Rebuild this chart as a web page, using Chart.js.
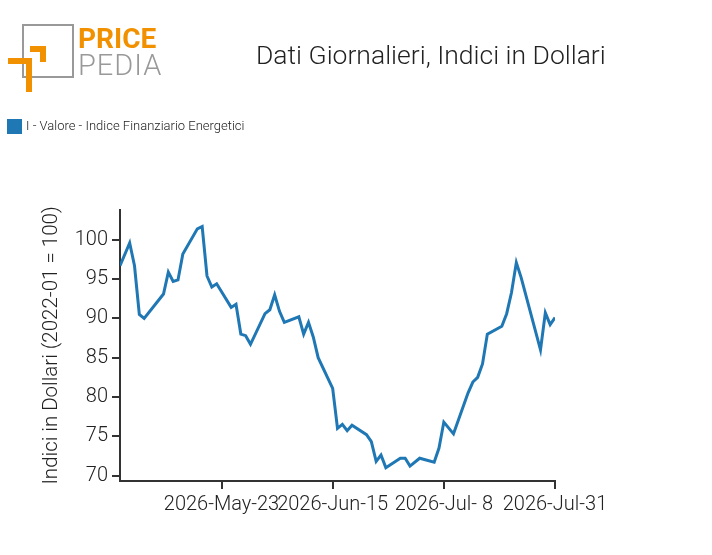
<!DOCTYPE html>
<html><head><meta charset="utf-8">
<script src="https://cdn.jsdelivr.net/npm/chart.js@4"></script>
<style>
body{margin:0;background:#fff;font-family:Roboto,sans-serif;}
#wrap{position:relative;width:712px;height:555px;}
canvas{position:absolute;left:0;top:0;}
.t{position:absolute;}
</style></head><body>
<div id="wrap">
<canvas id="c" width="712" height="555"></canvas>
<div class="t" style="left:22px;top:24px;width:52px;height:54px;border:2px solid #999;box-sizing:border-box;"></div>
<div class="t" style="left:8px;top:58px;width:24px;height:6px;background:#f29100;"></div>
<div class="t" style="left:26px;top:58px;width:6px;height:34px;background:#f29100;"></div>
<div class="t" style="left:30px;top:46px;width:16px;height:6px;background:#f29100;"></div>
<div class="t" style="left:40px;top:46px;width:6px;height:16px;background:#f29100;"></div>
<div class="t" style="left:78px;top:22px;font-size:28px;font-weight:bold;color:#f29100;">PRICE</div>
<div class="t" style="left:78px;top:48px;font-size:29px;font-weight:300;color:#999;letter-spacing:1px;">PEDIA</div>
<div class="t" style="left:256px;top:39px;font-size:26.5px;font-weight:300;color:#222;">Dati Giornalieri, Indici in Dollari</div>
<div class="t" style="left:7px;top:119px;width:15px;height:15px;background:#1f77b4;"></div>
<div class="t" style="left:26px;top:118px;font-size:13px;color:#222;font-weight:300;">I - Valore - Indice Finanziario Energetici</div>
</div>
<script>
const dates=["2026-05-02","2026-05-04","2026-05-05","2026-05-06","2026-05-07","2026-05-11","2026-05-12","2026-05-13","2026-05-14","2026-05-15","2026-05-18","2026-05-19","2026-05-20","2026-05-21","2026-05-22","2026-05-25","2026-05-26","2026-05-27","2026-05-28","2026-05-29","2026-06-01","2026-06-02","2026-06-03","2026-06-04","2026-06-05","2026-06-08","2026-06-09","2026-06-10","2026-06-11","2026-06-12","2026-06-15","2026-06-16","2026-06-17","2026-06-18","2026-06-19","2026-06-22","2026-06-23","2026-06-24","2026-06-25","2026-06-26","2026-06-29","2026-06-30","2026-07-01","2026-07-03","2026-07-06","2026-07-07","2026-07-08","2026-07-10","2026-07-13","2026-07-14","2026-07-15","2026-07-16","2026-07-17","2026-07-20","2026-07-21","2026-07-22","2026-07-23","2026-07-24","2026-07-28","2026-07-29","2026-07-30","2026-07-31"];
const values=[96.7,99.6,96.7,90.5,90.0,93.1,95.9,94.7,94.9,98.2,101.4,101.7,95.4,94.0,94.4,91.4,91.8,88.0,87.8,86.7,90.6,91.1,93.0,90.9,89.5,90.2,88.0,89.5,87.6,85.0,81.1,76.0,76.5,75.7,76.4,75.2,74.3,71.8,72.6,71.0,72.2,72.2,71.2,72.2,71.7,73.5,76.8,75.3,80.5,81.9,82.5,84.2,88.0,89.0,90.6,93.3,97.1,95.2,86.0,90.7,89.2,90.1];
const yTicks=[70,75,80,85,90,95,100];
const xTickDates=["2026-05-23","2026-06-15","2026-07-08","2026-07-31"];
const mon=["Jan","Feb","Mar","Apr","May","Jun","Jul","Aug","Sep","Oct","Nov","Dec"];
const base=Date.UTC(2026,4,23);
const dayOf=s=>Math.round((Date.parse(s+"T00:00:00Z")-base)/86400000);
const fmt=d=>{const t=new Date(base+d*86400000);const dd=t.getUTCDate();return t.getUTCFullYear()+"-"+mon[t.getUTCMonth()]+"-"+(dd<10?" "+dd:dd);};
const xTicks=xTickDates.map(dayOf);
const pts=dates.map((d,i)=>({x:dayOf(d),y:values[i]}));
const ax='#333';
new Chart(document.getElementById('c'),{
type:'line',
data:{datasets:[{data:pts,borderColor:'#1f77b4',borderWidth:3,pointRadius:0,tension:0,fill:false}]},
options:{responsive:false,animation:false,
layout:{padding:{top:210,right:157,left:36,bottom:0}},
plugins:{legend:{display:false},tooltip:{enabled:false}},
scales:{
x:{type:'linear',min:-21,max:69,
afterBuildTicks:s=>{s.ticks=xTicks.map(v=>({value:v}));},
afterFit:s=>{s.height=74;},
ticks:{callback:v=>fmt(v),color:'#222',font:{family:'Roboto',size:20,weight:300},maxRotation:0,autoSkip:false,padding:4},
grid:{display:true,drawOnChartArea:false,color:ax,tickLength:8,lineWidth:2},
border:{color:ax,width:2}},
y:{min:69.3,max:103.8,
afterBuildTicks:s=>{s.ticks=yTicks.map(v=>({value:v}));},
afterFit:s=>{s.width=84;},
ticks:{color:'#222',font:{family:'Roboto',size:20,weight:300},padding:4},
title:{display:true,text:'Indici in Dollari (2022-01 = 100)',color:'#222',font:{family:'Roboto',size:20.5,weight:300},padding:{bottom:0}},
grid:{display:true,drawOnChartArea:false,color:ax,tickLength:8,lineWidth:2},
border:{color:ax,width:2}}
}}});
</script></body></html>
